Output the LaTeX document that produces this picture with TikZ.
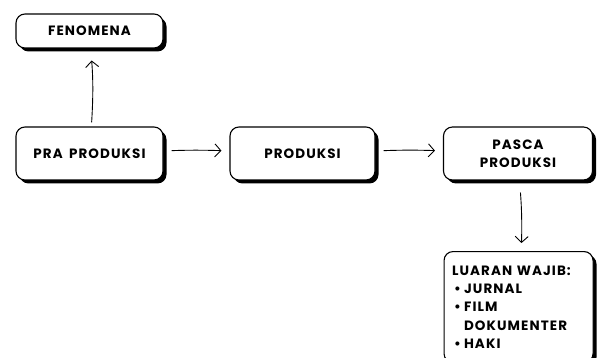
\documentclass[tikz,border=0pt]{standalone}
\usepackage{fontspec}
\setmainfont{Poppins}[LetterSpace=8,WordSpace=1.6]
\usetikzlibrary{arrows.meta,shadows,positioning}

\newcommand\lbul{\makebox[12pt][l]{\hspace{2pt}\textbullet}}

\tikzset{
  stage/.style={draw, line width=1.1pt, rounded corners=9pt, fill=white,
    minimum width=147pt, minimum height=53pt, align=center,
    font=\bfseries\fontsize{13.5}{18}\selectfont,
    drop shadow={shadow xshift=3.5pt, shadow yshift=-3.5pt, opacity=1, fill=black}},
  flow/.style={-{Straight Barb[length=6pt,width=13pt]}, line width=0.9pt}
}

\begin{document}
\begin{tikzpicture}[x=1pt,y=-1pt]
    \useasboundingbox (0,0) rectangle (597,358);

    \node[stage, minimum height=34pt] (fenomena) at (89.5,31) {FENOMENA};
    \node[stage] (praproduksi) at (89.5,153.5) {PRA PRODUKSI};
    \node[stage, minimum width=145pt] (produksi) at (302.5,153.5) {PRODUKSI};
    \node[stage, minimum width=149pt] (pascaproduksi) at (518,153.5) {PASCA\\PRODUKSI};
    \node[stage, minimum width=149pt, minimum height=0pt, anchor=north west,
          text width=133pt, align=left, inner xsep=8pt, inner ysep=14pt,
          font=\bfseries\fontsize{13.5}{18.4}\selectfont] (luaran) at (443.5,251)
          {LUARAN WAJIB:\\
           \lbul JURNAL\\
           \lbul FILM\\
           \hspace{12pt}DOKUMENTER\\
           \lbul HAKI\\[6pt]};

    % hand drawn arrows
    \draw[flow, shorten <=4pt, shorten >=12pt] (praproduksi) to[bend right=4] (fenomena);
    \draw[flow, shorten <=8pt, shorten >=8pt] (praproduksi) to[bend left=2] (produksi);
    \draw[flow, shorten <=8pt, shorten >=8pt] (produksi) to[bend left=2] (pascaproduksi);
    \draw[flow, shorten <=12pt, shorten >=8pt] (pascaproduksi) to[bend left=3] (luaran);

\end{tikzpicture}
\end{document}
